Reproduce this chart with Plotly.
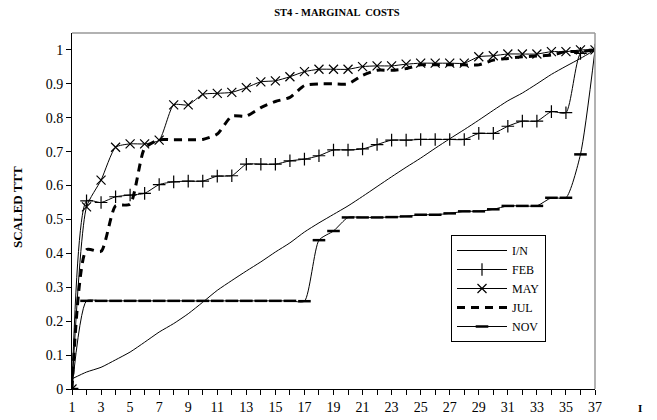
"""
ST4 - MARGINAL COSTS: scaled TTT curves by month.
"""
import plotly.graph_objects as go

# x positions 1..37
steps = list(range(1, 38))

in_vals = [0.03, 0.05, 0.064, 0.086, 0.109, 0.138, 0.168, 0.193, 0.222, 0.256,
           0.291, 0.32, 0.348, 0.375, 0.404, 0.431, 0.463, 0.49, 0.515, 0.54,
           0.568, 0.597, 0.626, 0.654, 0.681, 0.71, 0.738, 0.765, 0.793, 0.822,
           0.85, 0.873, 0.9, 0.928, 0.952, 0.975, 1.0]

feb_vals = [0.0, 0.555, 0.55, 0.567, 0.572, 0.577, 0.603, 0.611, 0.613, 0.613,
            0.628, 0.629, 0.663, 0.663, 0.663, 0.673, 0.678, 0.688, 0.705, 0.705,
            0.708, 0.721, 0.734, 0.734, 0.736, 0.736, 0.736, 0.736, 0.754, 0.754,
            0.775, 0.79, 0.79, 0.818, 0.815, 0.99, 1.0]

may_vals = [0.0, 0.537, 0.616, 0.713, 0.723, 0.723, 0.734, 0.838, 0.838, 0.869,
            0.872, 0.875, 0.889, 0.906, 0.909, 0.921, 0.936, 0.943, 0.943, 0.943,
            0.951, 0.953, 0.953, 0.958, 0.961, 0.961, 0.961, 0.961, 0.98, 0.983,
            0.988, 0.988, 0.988, 0.995, 0.995, 1.0, 1.0]

jul_vals = [0.0, 0.411, 0.406, 0.54, 0.545, 0.71, 0.735, 0.735, 0.735, 0.736,
            0.752, 0.805, 0.805, 0.83, 0.848, 0.86, 0.895, 0.9, 0.9, 0.9,
            0.925, 0.94, 0.94, 0.945, 0.956, 0.956, 0.956, 0.956, 0.956, 0.97,
            0.975, 0.98, 0.982, 0.985, 0.995, 0.995, 1.0]

nov_vals = [0.0, 0.26, 0.26, 0.26, 0.26, 0.26, 0.26, 0.26, 0.26, 0.26,
            0.26, 0.26, 0.26, 0.26, 0.26, 0.26, 0.259, 0.439, 0.466, 0.506,
            0.506, 0.506, 0.507, 0.509, 0.514, 0.514, 0.518, 0.524, 0.524, 0.53,
            0.54, 0.54, 0.54, 0.564, 0.564, 0.692, 1.0]

SERIF = "Liberation Serif, Times New Roman, serif"

fig = go.Figure()

# I/N: plain thin line
fig.add_trace(go.Scatter(
    name="I/N", x=steps, y=in_vals, mode="lines",
    line=dict(color="black", width=1, shape="spline", smoothing=0.6),
))
# FEB: "+" markers
fig.add_trace(go.Scatter(
    name="FEB", x=steps, y=feb_vals, mode="lines+markers",
    line=dict(color="black", width=1, shape="spline", smoothing=0.6),
    marker=dict(symbol="cross-thin", size=9, color="black",
                line=dict(color="black", width=1.2)),
))
# MAY: "x" markers
fig.add_trace(go.Scatter(
    name="MAY", x=steps, y=may_vals, mode="lines+markers",
    line=dict(color="black", width=1, shape="spline", smoothing=0.6),
    marker=dict(symbol="x-thin", size=9, color="black",
                line=dict(color="black", width=1.2)),
))
# JUL: thick dashed line
fig.add_trace(go.Scatter(
    name="JUL", x=steps, y=jul_vals, mode="lines",
    line=dict(color="black", width=3, dash="8px,6px", shape="spline", smoothing=0.6),
))
# NOV: short horizontal bar markers
fig.add_trace(go.Scatter(
    name="NOV", x=steps, y=nov_vals, mode="lines+markers",
    line=dict(color="black", width=1, shape="spline", smoothing=0.6),
    marker=dict(symbol="line-ew", size=9, color="black",
                line=dict(color="black", width=2.5)),
))

fig.update_layout(
    width=657,
    height=420,
    title=dict(
        text="<b>ST4 - MARGINAL  COSTS</b>",
        font=dict(family=SERIF, size=10.5, color="black"),
        x=337 / 657, xref="container", xanchor="center",
        y=1 - 12 / 420, yanchor="middle",
    ),
    font=dict(family=SERIF, size=14, color="black"),
    xaxis=dict(
        range=[1, 37],
        tick0=1, dtick=2,
        ticks="outside", ticklen=5, tickcolor="black",
        minor=dict(dtick=1, tick0=1, ticks="outside", ticklen=5, tickcolor="black"),
        showline=True, linecolor="black", linewidth=1,
        showgrid=False, zeroline=False, automargin=False,
        tickfont=dict(family=SERIF, size=14, color="black"),
    ),
    yaxis=dict(
        range=[0, 1.05],
        tickvals=[0, 0.1, 0.2, 0.3, 0.4, 0.5, 0.6, 0.7, 0.8, 0.9, 1],
        ticktext=["0", "0.1", "0.2", "0.3", "0.4", "0.5", "0.6", "0.7", "0.8", "0.9", "1"],
        ticks="outside", ticklen=5, tickcolor="black",
        showline=True, linecolor="black", linewidth=1,
        showgrid=False, zeroline=False, automargin=False,
        tickfont=dict(family=SERIF, size=14, color="black"),
    ),
    legend=dict(
        x=(451 - 72) / 523, y=(389 - 235) / 356,
        xanchor="left", yanchor="top",
        bgcolor="white", bordercolor="black", borderwidth=1,
        font=dict(family=SERIF, size=12, color="black"),
        itemwidth=50, tracegroupgap=0,
    ),
    shapes=[
        dict(type="line", xref="paper", yref="paper", x0=1, x1=1, y0=0, y1=1,
             line=dict(color="#999999", width=1.5)),
        dict(type="line", xref="paper", yref="paper", x0=0, x1=1, y0=1, y1=1,
             line=dict(color="#999999", width=1.5)),
    ],
    annotations=[
        dict(text="<b>SCALED TTT</b>", textangle=-90,
             xref="paper", yref="paper", x=0, y=0.5, xshift=-55, yshift=4,
             xanchor="center", yanchor="middle",
             showarrow=False, font=dict(family=SERIF, size=13, color="black")),
        dict(text="<b>I</b>", xref="paper", yref="paper", x=1, y=0,
             xshift=45, yshift=-19, xanchor="center", yanchor="middle",
             showarrow=False, font=dict(family=SERIF, size=11, color="black")),
    ],
    plot_bgcolor="white",
    paper_bgcolor="white",
    margin=dict(l=72, r=62, t=33, b=31),
)

# drop the default 8px page margin so the figure sits at the window's corner
fig.write_html("out.html", config={"displayModeBar": False},
               post_script="document.body.style.margin = '0';")
